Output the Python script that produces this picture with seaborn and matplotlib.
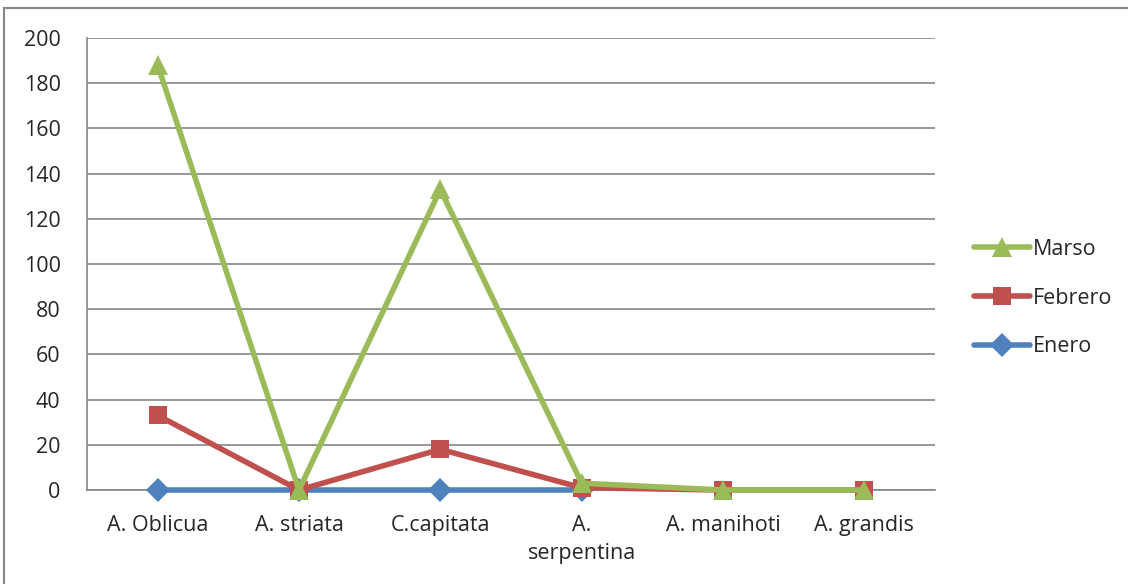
import numpy as np
import pandas as pd
import matplotlib
matplotlib.use("Agg")
import matplotlib.pyplot as plt
import seaborn as sns
from matplotlib.patches import Rectangle

categories = ["A. Oblicua", "A. striata", "C.capitata", "A.\nserpentina", "A. manihoti", "A. grandis"]
enero = [0, 0, 0, 0, np.nan, np.nan]
febrero = [33, 0, 18, 1, 0, 0]
marso = [188, 0, 133, 3, 0, 0]
series_names = ["Enero", "Febrero", "Marso"]
colors = {"Enero": "#4F81BD", "Febrero": "#C0504D", "Marso": "#9BBB59"}
markers = {"Enero": "D", "Febrero": "s", "Marso": "^"}
msizes = {"Enero": 12, "Febrero": 13, "Marso": 14}
LW = 4.0

rows = []
for name, vals in zip(series_names, [enero, febrero, marso]):
    for i, v in enumerate(vals):
        rows.append({"x": i, "value": v, "serie": name})
df = pd.DataFrame(rows)

sns.set_style("white")
plt.rcParams["font.family"] = ["Open Sans", "DejaVu Sans"]

fig = plt.figure(figsize=(11.28, 5.84), dpi=100)
ax = fig.add_axes([87 / 1128, 1 - 490 / 584, (935 - 87) / 1128, (490 - 38) / 584])

# draw one series at a time so marker sizes can differ
for z, name in enumerate(series_names):
    sns.lineplot(data=df[df["serie"] == name], x="x", y="value",
                 color=colors[name], marker=markers[name],
                 ax=ax, legend=False, zorder=3 + z)
    line = ax.lines[-1]
    line.set_linewidth(LW)
    line.set_markersize(msizes[name])
    line.set_markeredgewidth(0)
    line.set_markerfacecolor(colors[name])
    line.set_clip_on(False)

ax.set_xlim(-0.5, len(categories) - 0.5)
ax.set_ylim(0, 200)
ax.set_yticks(range(0, 201, 20))
ax.set_xticks(range(len(categories)))
ax.set_xticklabels(categories, fontsize=15.5, linespacing=1.45)
ax.set_xticks(np.arange(-0.5, len(categories), 1), minor=True)
ax.tick_params(axis="x", which="major", length=0, pad=18)
ax.tick_params(axis="x", which="minor", length=6, color="#868686", width=1.2, direction="out")
ax.tick_params(axis="y", length=6, color="#868686", width=1.2, direction="out", labelsize=15.5, pad=13)
ax.yaxis.grid(True, color="#868686", linewidth=1.2)
ax.set_axisbelow(True)
for s in ["top", "right"]:
    ax.spines[s].set_visible(False)
for s in ["left", "bottom"]:
    ax.spines[s].set_color("#868686")
    ax.spines[s].set_linewidth(1.2)
ax.set_xlabel("")
ax.set_ylabel("")

handles = []
for name in ["Marso", "Febrero", "Enero"]:
    h, = ax.plot([], [], color=colors[name], marker=markers[name], lw=LW,
                 markersize=msizes[name], markeredgewidth=0)
    handles.append(h)
fig.legend(handles, ["Marso", "Febrero", "Enero"], loc="center left",
           bbox_to_anchor=(955 / 1128, 1 - 298 / 584), frameon=False,
           fontsize=15.5, handlelength=2.6, handletextpad=0.1, labelspacing=1.3)

fig.patches.append(Rectangle((4 / 1128, -0.1), 1.2, 1 - 8 / 584 + 0.1,
                             transform=fig.transFigure, fill=False,
                             edgecolor="#868686", linewidth=1.5))

fig.savefig("out.png", dpi=100)
